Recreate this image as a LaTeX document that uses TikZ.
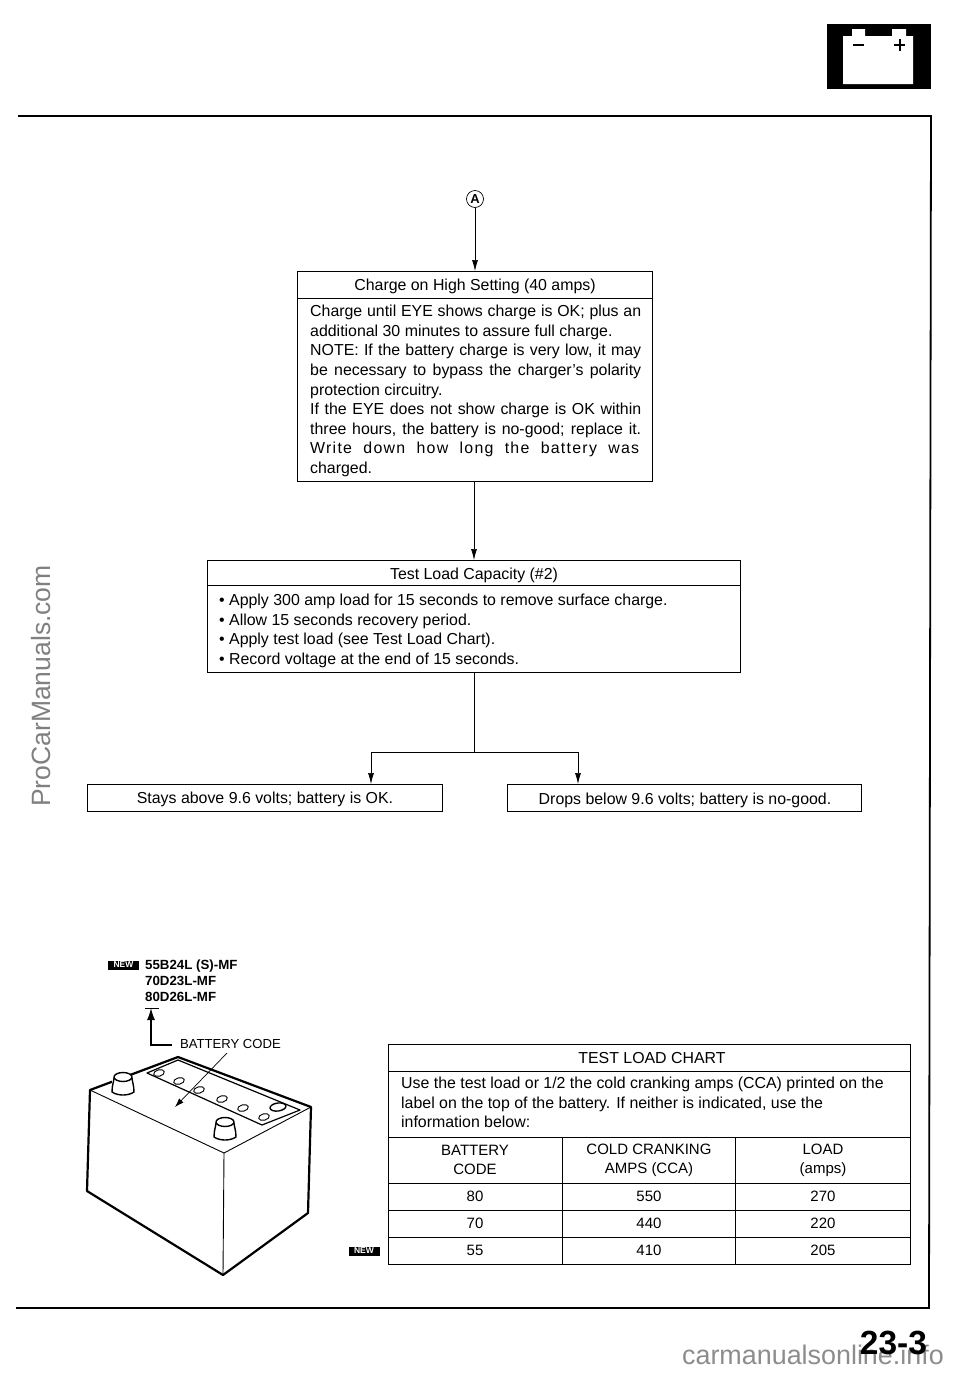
\documentclass[tikz,border=0pt]{standalone}
\usepackage{fontspec}
\setmainfont{Liberation Sans}
\usetikzlibrary{arrows.meta}
\newcommand{\fitline}[2]{\makebox[#1pt][s]{#2}}
\tikzset{
  box/.style={draw, line width=0.8pt, inner sep=0pt},
  bodytext/.style={font=\fontsize{15.9}{19.6}\selectfont, inner sep=0pt, align=left, anchor=north west},
  headtext/.style={font=\fontsize{15.9}{18}\selectfont, inner sep=0pt},
  celltext/.style={font=\fontsize{15}{19}\selectfont, inner sep=0pt, align=center},
  rowtext/.style={celltext, text height=10.5pt, text depth=0pt},
  flow/.style={line width=0.7pt, -{Latex[length=11pt,width=6pt]}},
  link/.style={line width=0.7pt},
  outline/.style={line width=2.2pt, line join=round},
  thinline/.style={line width=0.9pt, line join=round},
  newbadge/.style={fill=black, text=white, font=\bfseries\fontsize{8.5}{8.5}\selectfont, inner sep=0pt, minimum width=31pt, minimum height=9pt}
}
\begin{document}
\begin{tikzpicture}[x=1pt,y=-1pt]
    \useasboundingbox (0,0) rectangle (960,1374);

    % Marcas de agua
    \node[rotate=90, text=black!50, font=\fontsize{26.5}{30}\selectfont, inner sep=0pt] (markleft) at (41,686) {ProCarManuals.com};
    \node[text=black!45, font=\fontsize{26.9}{30}\selectfont, inner sep=0pt, anchor=east] (markbottom) at (944,1355) {carmanualsonline.info};

    % Icono de la bateria
    \fill (827,24) rectangle (931,89);
    \fill[white] (843,36) -- (852,36) -- (852,29) -- (865,29) -- (865,36) -- (892,36)
        -- (892,29) -- (906,29) -- (906,36) -- (913,36) -- (913,84) -- (843,84) -- cycle;
    \draw[line width=2pt] (853,45) -- (864,45);
    \draw[line width=2pt] (894,45) -- (905,45) (899.5,39) -- (899.5,51);

    % Marco de la pagina
    \draw[line width=1.8pt] (18,116) -- (931,116) -- (929,1308) -- (16,1308);

    % Cajas del diagrama
    \node[draw, circle, line width=0.7pt, minimum size=17pt, inner sep=0pt, font=\bfseries\fontsize{13}{13}\selectfont] (markA) at (475,199) {A};
    \node[box, minimum width=355pt, minimum height=210pt] (chargebox) at (474.5,376) {};
    \node[box, minimum width=533pt, minimum height=112pt] (testbox) at (473.5,616) {};
    \node[box, minimum width=355pt, minimum height=27pt] (okbox) at (264.5,797.5) {};
    \node[box, minimum width=354pt, minimum height=27pt] (badbox) at (684,797.5) {};

    % Textos de las cajas
    \node[headtext] (chargehead) at (475,286.5) {Charge on High Setting (40 amps)};
    \draw[link] (297,298) -- (652,298);
    \node[bodytext] (chargetext) at (310,305) {%
        \fitline{331}{Charge until EYE shows charge is OK; plus an}\\
        additional 30 minutes to assure full charge.\\
        \fitline{331}{NOTE: If the battery charge is very low, it may}\\
        \fitline{331}{be necessary to bypass the charger's polarity}\\
        protection circuitry.\\
        \fitline{331}{If the EYE does not show charge is OK within}\\
        \fitline{331}{three hours, the battery is no-good; replace it.}\\
        {\addfontfeature{LetterSpace=8}\fitline{329}{Write down how long the battery was}}\\
        charged.};
    \node[headtext] (testhead) at (474,575.5) {Test Load Capacity (\#2)};
    \draw[link] (207,585) -- (740,585);
    \node[bodytext] (testtext) at (219,594) {%
        • Apply 300 amp load for 15 seconds to remove surface charge.\\
        • Allow 15 seconds recovery period.\\
        • Apply test load (see Test Load Chart).\\
        • Record voltage at the end of 15 seconds.};
    \node[headtext] (oktext) at (265,799) {Stays above 9.6 volts; battery is OK.};
    \node[headtext] (badtext) at (685,800) {Drops below 9.6 volts; battery is no-good.};

    % Conectores
    \coordinate (chargetop) at (475,271);
    \coordinate (chargeout) at (474,481);
    \coordinate (testtop) at (474,560);
    \coordinate (testout) at (474,672);
    \coordinate (fork) at (474,752);
    \coordinate (oktop) at (371,784);
    \coordinate (badtop) at (578,784);
    \draw[flow] (markA) -- (chargetop);
    \draw[flow] (chargeout) -- (testtop);
    \draw[link] (testout) -- (fork);
    \draw[flow] (fork) -| (oktop);
    \draw[flow] (fork) -| (badtop);

    % Codigos de bateria
    \node[newbadge] (newcode) at (123.5,965) {NEW};
    \node[font=\bfseries\fontsize{13.3}{16}\selectfont, inner sep=0pt, align=left, anchor=north west] (codes) at (145,960) {55B24L (S)-MF\\70D23L-MF\\80D26L-MF};
    \draw[line width=1pt] (145,1008) -- (159,1008);
    \coordinate (codetip) at (151,1008);
    \coordinate (codecorner) at (151,1045);
    \coordinate (codeend) at (172,1045);
    \draw[line width=1.3pt, -{Latex[length=12pt,width=8pt]}] (codeend) -- (codecorner) -- (codetip);
    \node[font=\fontsize{13.1}{14}\selectfont, inner sep=0pt] (codelabel) at (230.5,1044) {BATTERY CODE};

    % Bateria
    \draw[outline] (90,1090) -- (178,1057) -- (311,1107) -- (308,1213) -- (223,1275) -- (87,1191) -- cycle;
    \draw[thinline] (90,1090) -- (224,1153) -- (311,1107);
    \draw[thinline] (224,1153) -- (223,1275);
    \draw[thinline, line width=1.2pt] (147,1073) -- (178,1060) -- (300,1110) -- (262,1125) -- cycle;
    \foreach \cx/\cy in {159/1073,179/1081,199/1090,222/1099,243/1108,264/1117}
        \draw[thinline, fill=white, rotate around={15:(\cx,\cy)}] (\cx,\cy) ellipse (5.5pt and 3.2pt);
    \draw[thinline, line width=1.4pt, fill=white, rotate around={8:(278,1107)}] (278,1107) ellipse (8pt and 4pt);
    % Bornes
    \foreach \tx/\ty in {123/1083,225/1128}{
        \fill[white] (\tx-11,\ty-6) rectangle (\tx+11,\ty+11);
        \draw[thinline, line width=1.4pt, fill=white] (\tx-11,\ty+9) .. controls (\tx-11,\ty+2) and (\tx-9,\ty-2) .. (\tx-9,\ty-5)
            -- (\tx+9,\ty-5) .. controls (\tx+9,\ty-2) and (\tx+11,\ty+2) .. (\tx+11,\ty+9)
            .. controls (\tx+5,\ty+13) and (\tx-5,\ty+13) .. (\tx-11,\ty+9) -- cycle;
        \draw[thinline, line width=1.4pt, fill=white] (\tx,\ty-6) ellipse (9pt and 4.5pt);
    }
    \coordinate (pointerstart) at (227,1053);
    \coordinate (pointerend) at (175,1107);
    \draw[line width=0.7pt, -{Latex[length=9pt,width=6pt]}] (pointerstart) -- (pointerend);

    % Tabla de carga
    \node[box, line width=1pt, minimum width=522pt, minimum height=220pt] (chart) at (649,1154) {};
    \node[headtext] (charthead) at (652,1058) {TEST LOAD CHART};
    \draw[link] (388,1071) -- (910,1071);
    \node[bodytext] (charttext) at (401,1077) {%
        Use the test load or 1/2 the cold cranking amps (CCA) printed on the\\
        label on the top of the battery. If neither is indicated, use the\\
        information below:};
    \foreach \ly in {1137,1183,1210,1237}
        \draw[link] (388,\ly) -- (910,\ly);
    \foreach \lx in {562,735}
        \draw[link] (\lx,1137) -- (\lx,1264);
    \node[celltext] (headcode) at (475,1160) {BATTERY\\CODE};
    \node[celltext] (headcca) at (649,1160.5) {COLD CRANKING\\AMPS (CCA)};
    \node[celltext] (headload) at (823,1160.5) {LOAD\\(amps)};
    \foreach \yy/\cc/\ca/\lo in {1196/80/550/270,1223/70/440/220,1250/55/410/205}{
        \node[rowtext] (code\cc) at (475,\yy) {\cc};
        \node[rowtext] (cca\cc) at (649,\yy) {\ca};
        \node[rowtext] (load\cc) at (823,\yy) {\lo};
    }
    \node[newbadge] (newchart) at (364,1251) {NEW};

    % Numero de pagina
    \node[font=\bfseries\fontsize{33.5}{34}\selectfont, inner sep=0pt] (pagenum) at (893.5,1343) {23-3};
\end{tikzpicture}
\end{document}
